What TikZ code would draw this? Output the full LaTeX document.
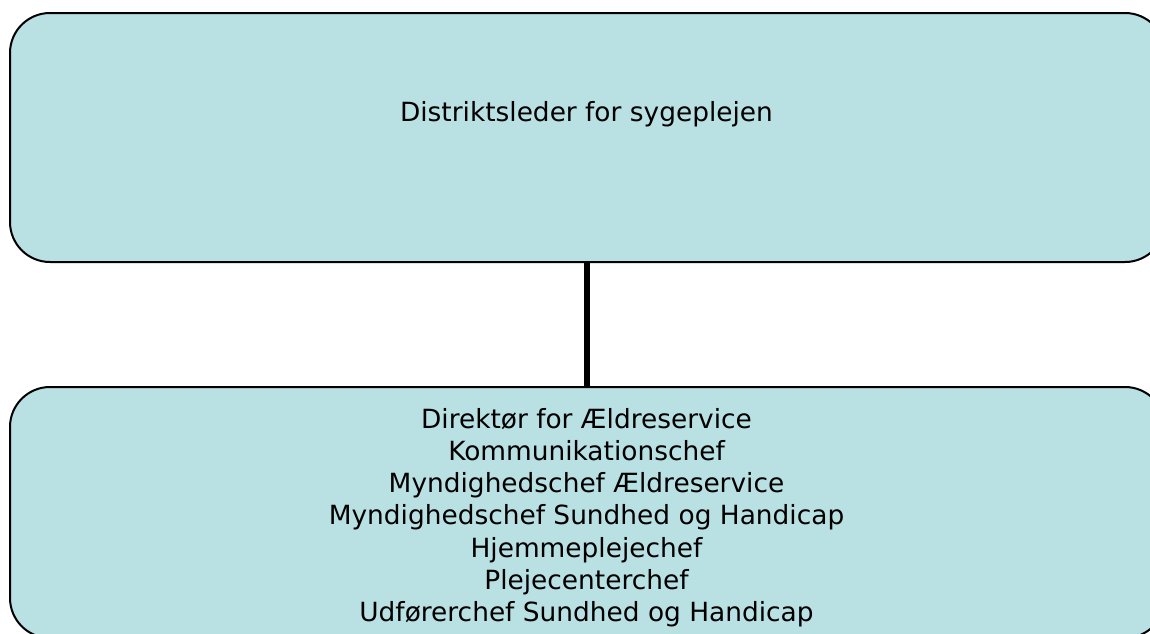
\documentclass[tikz,border=0pt]{standalone}
\usepackage{fontspec}
\setmainfont{DejaVu Sans}
\definecolor{boxfill}{RGB}{185,224,227}
\begin{document}
\begin{tikzpicture}[x=1pt,y=-1pt,
  orgbox/.style={draw=black,line width=2pt,fill=boxfill,rounded corners=40pt,
    minimum width=1155pt,inner sep=0pt},
  orgtext/.style={inner sep=0pt,align=center,font=\fontsize{26.4}{32.2}\selectfont},
  link/.style={line width=6pt,draw=black}]
\clip (0,0) rectangle (1150,633);
\node[orgbox,minimum height=249pt] (top) at (587.5,137.5) {};
\node[orgbox,minimum height=251pt] (bottom) at (587.5,512.5) {};
\node[orgtext,anchor=base] (toptext) at (586.5,121) {Distriktsleder for sygeplejen};
\node[orgtext,anchor=north] (bottext) at (586.5,408) {Direktør for Ældreservice\\Kommunikationschef\\Myndighedschef Ældreservice\\Myndighedschef Sundhed og Handicap\\Hjemmeplejechef\\Plejecenterchef\\Udførerchef Sundhed og Handicap};
\draw[link] ([xshift=-1pt]top.south) -- ([xshift=-1pt]bottom.north);
\end{tikzpicture}
\end{document}
